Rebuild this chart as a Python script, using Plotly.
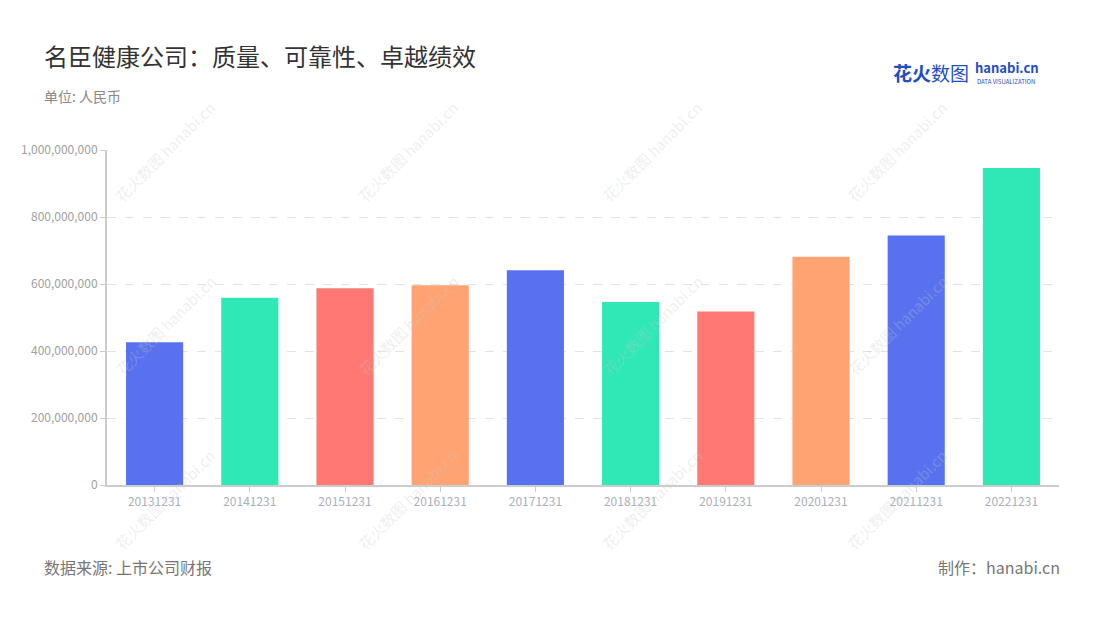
import plotly.graph_objects as go

categories = ["20131231", "20141231", "20151231", "20161231", "20171231",
              "20181231", "20191231", "20201231", "20211231", "20221231"]
values = [426e6, 559e6, 587e6, 596e6, 641e6, 546e6, 518e6, 681e6, 745e6, 946e6]
palette = ["#5871EE", "#30E8B5", "#FF7873", "#FFA373"]
bar_colors = [palette[i % 4] for i in range(len(categories))]
y_ticks = [0, 200e6, 400e6, 600e6, 800e6, 1000e6]

title = "名臣健康公司：质量、可靠性、卓越绩效"
subtitle = "单位: 人民币"
source = "数据来源: 上市公司财报"
maker = "制作：hanabi.cn"

FONT = "Noto Sans CJK SC, Noto Sans, sans-serif"

# plot area in page pixels (page has an 8px body offset)
PX0, PX1, PY0, PY1 = 107, 1059, 150, 485

fig = go.Figure()
fig.add_trace(go.Bar(
    x=categories, y=values,
    marker=dict(color=bar_colors, line=dict(width=0)),
    hoverinfo="x+y",
))

annotations = []


def pa(text, x, y, size, color, xanchor="left", yanchor="middle", **kw):
    annotations.append(dict(text=text, x=(x - PX0) / (PX1 - PX0), y=(PY1 - y) / (PY1 - PY0),
                            xref="paper", yref="paper",
                            xanchor=xanchor, yanchor=yanchor, showarrow=False,
                            font=dict(size=size, color=color, family=FONT), **kw))


# watermarks
for wx in [165, 408, 652, 897]:
    for wy in [152, 325, 500]:
        pa("花火数图 hanabi.cn", wx, wy, 15, "rgba(200,200,200,0.3)", xanchor="center",
           textangle=-45)

pa(title, 42, 55, 24, "#333333")
pa(subtitle, 42, 96, 14, "#888888")
pa(source, 42, 567, 16, "#777777")
pa(maker, 1062, 567, 16, "#777777", xanchor="right")
# logo
pa("<b>花火</b>数图", 891, 73, 19, "#1F4EC4")
pa("<b>hanabi.cn</b>", 973, 67, 13, "#1F4EC4")
pa("DATA VISUALIZATION", 975, 81, 6, "#1F4EC4")

fig.update_layout(
    width=1100, height=620,
    margin=dict(l=99, r=49, t=142, b=143),
    paper_bgcolor="white", plot_bgcolor="white",
    font=dict(family=FONT, color="#999999"),
    showlegend=False,
    bargap=0.4,
    annotations=annotations,
    xaxis=dict(
        type="category",
        showline=True, linecolor="#cccccc", linewidth=2,
        ticks="outside", ticklen=5, tickcolor="#cccccc",
        tickfont=dict(size=12, color="#aab0bb"),
        showgrid=False,
    ),
    yaxis=dict(
        range=[0, 1000e6],
        tickvals=y_ticks, tickformat=",d",
        showline=True, linecolor="#cccccc", linewidth=2,
        ticks="outside", ticklen=5, tickcolor="#cccccc",
        tickfont=dict(size=12, color="#a0a0a0"),
        showgrid=True, gridcolor="#e3e3e3", griddash="dash", gridwidth=1,
        zeroline=False,
    ),
)

fig.write_html("out.html")
